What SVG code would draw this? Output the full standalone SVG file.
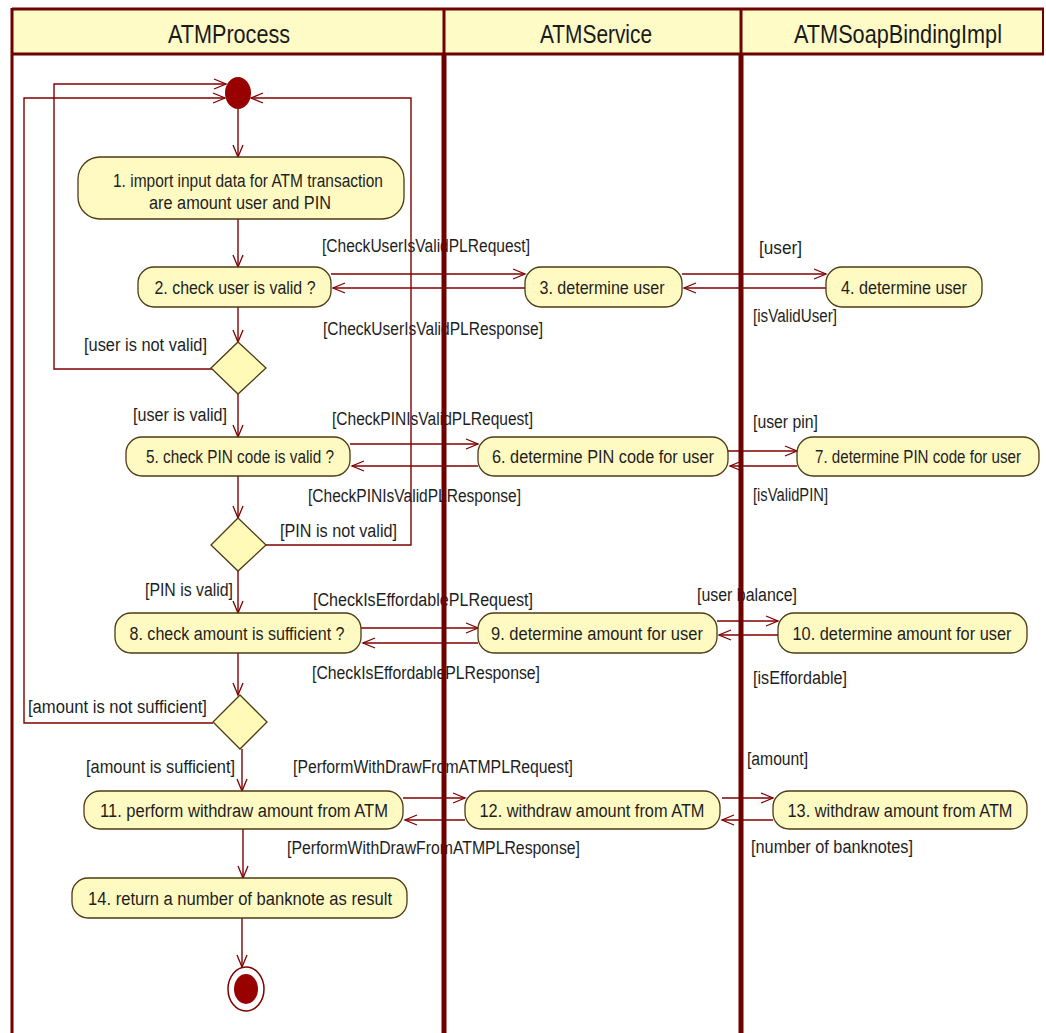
<svg xmlns="http://www.w3.org/2000/svg" width="1046" height="1033" viewBox="0 0 1046 1033">
  <defs>
    <marker id="arrow" markerUnits="userSpaceOnUse" markerWidth="14" markerHeight="12" refX="12" refY="5" orient="auto" overflow="visible">
      <path d="M0,0 L12,5 L0,10" fill="none" stroke="#800000" stroke-width="1.3"/>
    </marker>
    <style>
      .lane { stroke: #6e0000; fill: none; }
      .head { fill: #fffbc6; }
      .htxt { font-family: "Liberation Sans", Arial, sans-serif; font-size: 25px; fill: #1a1a1a; text-anchor: middle; }
      .act { fill: #fffac2; stroke: #4e3a14; stroke-width: 1.3; }
      .dec { fill: #fffab8; stroke: #4e3a14; stroke-width: 1.3; }
      .ntxt { font-family: "Liberation Sans", Arial, sans-serif; font-size: 18px; fill: #1e1e1e; text-anchor: middle; }
      .ltxt { font-family: "Liberation Sans", Arial, sans-serif; font-size: 18px; fill: #1e1e1e; }
      .flow { stroke: #800000; stroke-width: 1.4; fill: none; marker-end: url(#arrow); }
    </style>
  </defs>

  <rect width="1046" height="1033" fill="#ffffff"/>

  <!-- swimlane headers -->
  <g id="lane-headers">
    <rect class="head" x="12" y="9" width="1031" height="45"/>
    <text class="htxt" x="229" y="43" textLength="122" lengthAdjust="spacingAndGlyphs">ATMProcess</text>
    <text class="htxt" x="596" y="43" textLength="112" lengthAdjust="spacingAndGlyphs">ATMService</text>
    <text class="htxt" x="898" y="43" textLength="208" lengthAdjust="spacingAndGlyphs">ATMSoapBindingImpl</text>
  </g>

  <!-- guard / object-flow labels -->
  <g id="labels" class="ltxt">
    <text x="322" y="252" textLength="208" lengthAdjust="spacingAndGlyphs">[CheckUserIsValidPLRequest]</text>
    <text x="323" y="335" textLength="220" lengthAdjust="spacingAndGlyphs">[CheckUserIsValidPLResponse]</text>
    <text x="759" y="254" textLength="43" lengthAdjust="spacingAndGlyphs">[user]</text>
    <text x="753" y="322" textLength="84" lengthAdjust="spacingAndGlyphs">[isValidUser]</text>
    <text x="84" y="351" textLength="123" lengthAdjust="spacingAndGlyphs">[user is not valid]</text>
    <text x="133" y="421" textLength="94" lengthAdjust="spacingAndGlyphs">[user is valid]</text>
    <text x="332" y="425" textLength="201" lengthAdjust="spacingAndGlyphs">[CheckPINIsValidPLRequest]</text>
    <text x="308" y="502" textLength="213" lengthAdjust="spacingAndGlyphs">[CheckPINIsValidPLResponse]</text>
    <text x="753" y="428" textLength="65" lengthAdjust="spacingAndGlyphs">[user pin]</text>
    <text x="753" y="501" textLength="75" lengthAdjust="spacingAndGlyphs">[isValidPIN]</text>
    <text x="280" y="537" textLength="117" lengthAdjust="spacingAndGlyphs">[PIN is not valid]</text>
    <text x="145" y="596" textLength="88" lengthAdjust="spacingAndGlyphs">[PIN is valid]</text>
    <text x="313" y="606" textLength="220" lengthAdjust="spacingAndGlyphs">[CheckIsEffordablePLRequest]</text>
    <text x="312" y="679" textLength="228" lengthAdjust="spacingAndGlyphs">[CheckIsEffordablePLResponse]</text>
    <text x="697" y="601" textLength="100" lengthAdjust="spacingAndGlyphs">[user balance]</text>
    <text x="753" y="684" textLength="94" lengthAdjust="spacingAndGlyphs">[isEffordable]</text>
    <text x="28" y="713" textLength="179" lengthAdjust="spacingAndGlyphs">[amount is not sufficient]</text>
    <text x="86" y="773" textLength="149" lengthAdjust="spacingAndGlyphs">[amount is sufficient]</text>
    <text x="293" y="773" textLength="280" lengthAdjust="spacingAndGlyphs">[PerformWithDrawFromATMPLRequest]</text>
    <text x="287" y="854" textLength="293" lengthAdjust="spacingAndGlyphs">[PerformWithDrawFromATMPLResponse]</text>
    <text x="747" y="765" textLength="61" lengthAdjust="spacingAndGlyphs">[amount]</text>
    <text x="751" y="853" textLength="162" lengthAdjust="spacingAndGlyphs">[number of banknotes]</text>
  </g>

  <!-- control and object flows -->
  <g id="connectors">
    <path class="flow" d="M238,109 L238,157"/>
    <path class="flow" d="M238,219 L238,267"/>
    <path class="flow" d="M238,307 L238,342"/>
    <path class="flow" d="M238,394 L238,437"/>
    <path class="flow" d="M212,369 L54,369 L54,84 L226,84"/>
    <path class="flow" d="M238,476 L238,518"/>
    <path class="flow" d="M266,545 L411,545 L411,98 L251,98"/>
    <path class="flow" d="M238,571 L238,613"/>
    <path class="flow" d="M238,653 L238,695"/>
    <path class="flow" d="M213,723 L24,723 L24,98 L225,98"/>
    <path class="flow" d="M242,749 L242,791"/>
    <path class="flow" d="M243,829 L243,878"/>
    <path class="flow" d="M242,918 L242,967"/>

    <path class="flow" d="M331,274 L525,274"/>
    <path class="flow" d="M525,288 L333,288"/>
    <path class="flow" d="M682,274 L826,274"/>
    <path class="flow" d="M826,288 L684,288"/>

    <path class="flow" d="M350,444 L478,444"/>
    <path class="flow" d="M478,466 L352,466"/>
    <path class="flow" d="M728,451 L797,451"/>
    <path class="flow" d="M797,466 L730,466"/>

    <path class="flow" d="M361,628 L478,628"/>
    <path class="flow" d="M478,643 L363,643"/>
    <path class="flow" d="M717,621 L778,621"/>
    <path class="flow" d="M778,635 L719,635"/>

    <path class="flow" d="M403,798 L465,798"/>
    <path class="flow" d="M465,820 L405,820"/>
    <path class="flow" d="M722,798 L773,798"/>
    <path class="flow" d="M773,820 L722,820"/>
  </g>

  <!-- start / end -->
  <g id="initial">
    <ellipse cx="238" cy="93" rx="13" ry="16" fill="#990000"/>
  </g>
  <g id="final">
    <ellipse cx="246" cy="989" rx="18" ry="22" fill="#ffffff" stroke="#800000" stroke-width="1.5"/>
    <ellipse cx="246" cy="989" rx="12" ry="15" fill="#990000"/>
  </g>

  <!-- decisions -->
  <g id="decision-user"><path class="dec" d="M238,342 L266,368 L238,394 L211,368 Z"/></g>
  <g id="decision-pin"><path class="dec" d="M238,518 L266,545 L238,571 L211,545 Z"/></g>
  <g id="decision-amount"><path class="dec" d="M240,695 L267,722 L240,749 L213,722 Z"/></g>

  <!-- actions -->
  <g id="a1">
    <rect class="act" x="78" y="157" width="326" height="62" rx="22"/>
    <text class="ntxt" x="248" y="187" textLength="270" lengthAdjust="spacingAndGlyphs">1. import input data for ATM transaction</text>
    <text class="ntxt" x="240" y="209" textLength="182" lengthAdjust="spacingAndGlyphs">are amount user and PIN</text>
  </g>
  <g id="a2">
    <rect class="act" x="138" y="267" width="193" height="40" rx="16"/>
    <text class="ntxt" x="235" y="294" textLength="161" lengthAdjust="spacingAndGlyphs">2. check user is valid ?</text>
  </g>
  <g id="a3">
    <rect class="act" x="525" y="267" width="157" height="40" rx="16"/>
    <text class="ntxt" x="602" y="294" textLength="125" lengthAdjust="spacingAndGlyphs">3. determine user</text>
  </g>
  <g id="a4">
    <rect class="act" x="826" y="267" width="156" height="40" rx="16"/>
    <text class="ntxt" x="904" y="294" textLength="126" lengthAdjust="spacingAndGlyphs">4. determine user</text>
  </g>
  <g id="a5">
    <rect class="act" x="126" y="437" width="224" height="39" rx="16"/>
    <text class="ntxt" x="240" y="463" textLength="188" lengthAdjust="spacingAndGlyphs">5. check PIN code is valid ?</text>
  </g>
  <g id="a6">
    <rect class="act" x="478" y="437" width="250" height="39" rx="16"/>
    <text class="ntxt" x="603" y="463" textLength="222" lengthAdjust="spacingAndGlyphs">6. determine PIN code for user</text>
  </g>
  <g id="a7">
    <rect class="act" x="797" y="437" width="242" height="39" rx="16"/>
    <text class="ntxt" x="918" y="463" font-size="16" textLength="206" lengthAdjust="spacingAndGlyphs">7. determine PIN code for user</text>
  </g>
  <g id="a8">
    <rect class="act" x="115" y="613" width="246" height="40" rx="16"/>
    <text class="ntxt" x="237" y="640" textLength="215" lengthAdjust="spacingAndGlyphs">8. check amount is sufficient ?</text>
  </g>
  <g id="a9">
    <rect class="act" x="478" y="613" width="239" height="40" rx="16"/>
    <text class="ntxt" x="597" y="640" textLength="212" lengthAdjust="spacingAndGlyphs">9. determine amount for user</text>
  </g>
  <g id="a10">
    <rect class="act" x="778" y="613" width="249" height="40" rx="16"/>
    <text class="ntxt" x="902" y="640" textLength="219" lengthAdjust="spacingAndGlyphs">10. determine amount for user</text>
  </g>
  <g id="a11">
    <rect class="act" x="84" y="791" width="319" height="38" rx="16"/>
    <text class="ntxt" x="244" y="817" textLength="288" lengthAdjust="spacingAndGlyphs">11. perform withdraw amount from ATM</text>
  </g>
  <g id="a12">
    <rect class="act" x="465" y="791" width="255" height="38" rx="16"/>
    <text class="ntxt" x="592" y="817" textLength="225" lengthAdjust="spacingAndGlyphs">12. withdraw amount from ATM</text>
  </g>
  <g id="a13">
    <rect class="act" x="773" y="791" width="254" height="38" rx="16"/>
    <text class="ntxt" x="900" y="817" textLength="225" lengthAdjust="spacingAndGlyphs">13. withdraw amount from ATM</text>
  </g>
  <g id="a14">
    <rect class="act" x="72" y="878" width="335" height="40" rx="16"/>
    <text class="ntxt" x="240" y="905" textLength="304" lengthAdjust="spacingAndGlyphs">14. return a number of banknote as result</text>
  </g>

  <!-- swimlane borders -->
  <g id="lane-lines">
    <line class="lane" x1="12" y1="9" x2="1044" y2="9" stroke-width="3"/>
    <line class="lane" x1="12" y1="54" x2="1044" y2="54" stroke-width="3"/>
    <line class="lane" x1="12" y1="8" x2="12" y2="1033" stroke-width="3"/>
    <line class="lane" x1="1043" y1="8" x2="1043" y2="55" stroke-width="2"/>
    <line class="lane" x1="444" y1="9" x2="444" y2="54" stroke-width="3"/>
    <line class="lane" x1="444" y1="54" x2="444" y2="1033" stroke-width="5"/>
    <line class="lane" x1="741" y1="9" x2="741" y2="54" stroke-width="3"/>
    <line class="lane" x1="741" y1="54" x2="741" y2="1033" stroke-width="5"/>
  </g>
</svg>
